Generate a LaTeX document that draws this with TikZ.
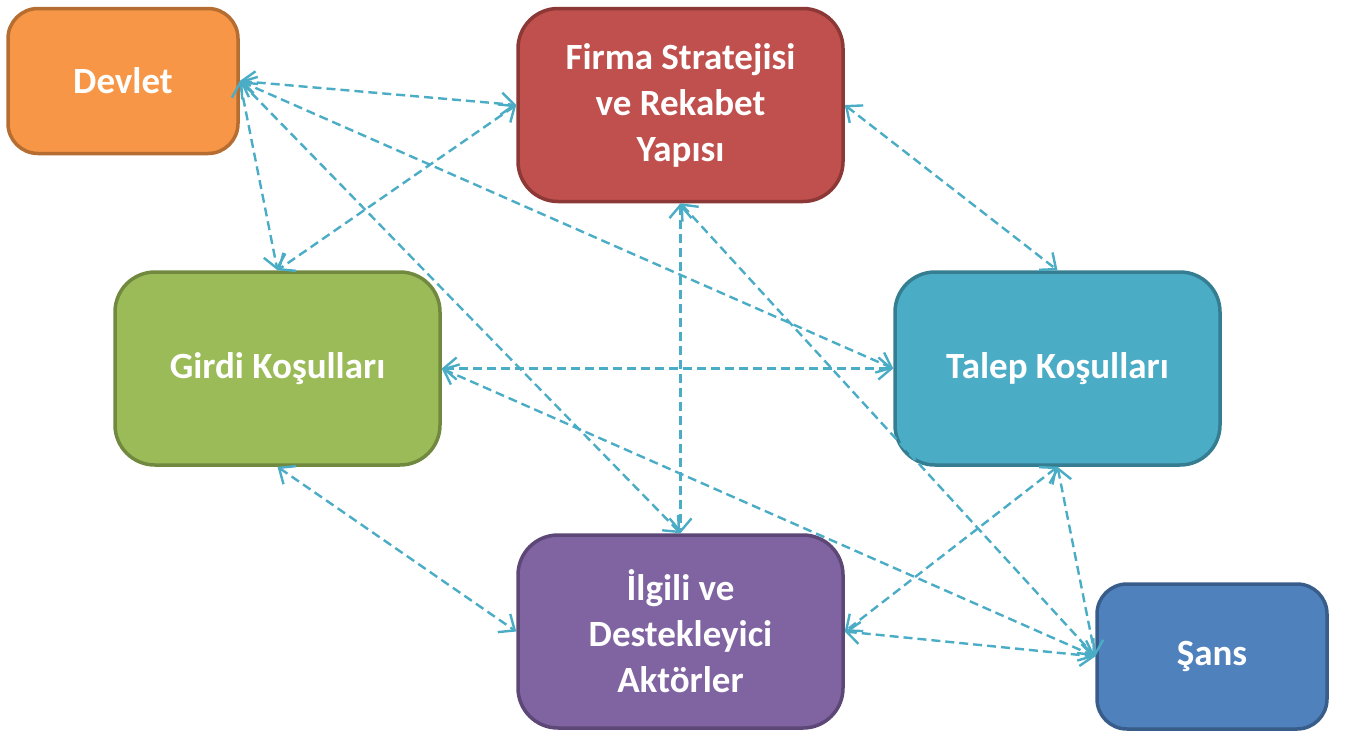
\documentclass[tikz,border=0pt]{standalone}
\usepackage{fontspec}
\setmainfont{Carlito}
\usepackage{xcolor}
\usetikzlibrary{arrows.meta}

\definecolor{devletfill}{HTML}{F79646}
\definecolor{devletline}{HTML}{B66D31}
\definecolor{firmafill}{HTML}{C0504D}
\definecolor{firmaline}{HTML}{8C3836}
\definecolor{girdifill}{HTML}{9BBB59}
\definecolor{girdiline}{HTML}{71893F}
\definecolor{talepfill}{HTML}{4BACC6}
\definecolor{talepline}{HTML}{357D91}
\definecolor{ilgilifill}{HTML}{8064A2}
\definecolor{ilgililine}{HTML}{5C4776}
\definecolor{sansfill}{HTML}{4F81BD}
\definecolor{sansline}{HTML}{385D8A}
\definecolor{oklink}{HTML}{4BACC6}

\begin{document}
\begin{tikzpicture}[x=1pt,y=-1pt,
    box/.style={rounded corners=40pt, line width=3.5pt, align=center,
        text=white, font=\fontsize{37}{46}\selectfont\bfseries,
        minimum width=325pt, minimum height=193pt, inner sep=0pt},
    smallbox/.style={box, rounded corners=30pt,
        minimum width=230pt, minimum height=145pt},
    link/.style={oklink, line width=2.4pt, dash pattern=on 9pt off 5pt,
        {Straight Barb[length=13pt,width=22pt]}-{Straight Barb[length=13pt,width=22pt]}}]

    \useasboundingbox (0,0) rectangle (1349,731);

    \node[smallbox, fill=devletfill, draw=devletline] (devlet) at (123,81) {Devlet};
    \node[box, fill=firmafill, draw=firmaline] (firma) at (680.5,105)
        {Firma Stratejisi\\ve Rekabet\\Yapısı};
    \node[box, fill=girdifill, draw=girdiline] (girdi) at (277.5,368.5) {Girdi Koşulları};
    \node[box, fill=talepfill, draw=talepline] (talep) at (1057.5,368.5) {Talep Koşulları};
    \node[box, fill=ilgilifill, draw=ilgililine] (ilgili) at (680.5,631.5)
        {İlgili ve\\Destekleyici\\Aktörler};
    \node[smallbox, fill=sansfill, draw=sansline] (sans) at (1212,656.5) {Şans};

    % Devlet
    \draw[link] (devlet.east) -- (firma.west);
    \draw[link] (devlet.east) -- (talep.west);
    \draw[link] (devlet.east) -- (girdi.north);
    \draw[link] (devlet.east) -- (ilgili.north);
    % Firma
    \draw[link] (firma.west) -- (girdi.north);
    \draw[link] (firma.east) -- (talep.north);
    \draw[link] (firma.south) -- (ilgili.north);
    \draw[link] (firma.south) -- (sans.west);
    % Girdi
    \draw[link] (girdi.east) -- (talep.west);
    \draw[link] (girdi.south) -- (ilgili.west);
    \draw[link] (girdi.east) -- (sans.west);
    % Talep
    \draw[link] (talep.south) -- (ilgili.east);
    \draw[link] (talep.south) -- (sans.west);
    \draw[link] (ilgili.east) -- (sans.west);

\end{tikzpicture}
\end{document}
